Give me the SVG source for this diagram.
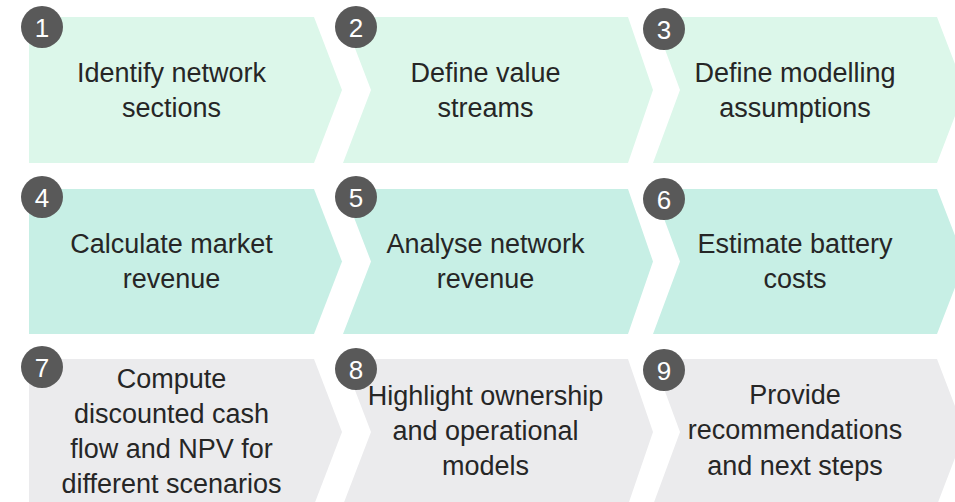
<svg xmlns="http://www.w3.org/2000/svg" width="955" height="502" viewBox="0 0 955 502">
<style>
.r1{fill:#DCF7EA}
.r2{fill:#C7EFE5}
.r3{fill:#EBEBED}
.num circle{fill:#595959}
.num text{fill:#FFFFFF;font-family:"Liberation Sans",Arial,sans-serif;font-size:26px;text-anchor:middle}
.lbl{fill:#262626;font-family:"Liberation Sans",Arial,sans-serif;font-size:27px;text-anchor:middle}
</style>
<rect width="955" height="502" fill="#FFFFFF"/>
<g id="step1">
<polygon class="r1" points="29,17 314,17 342,90 314,163 29,163"/>
<text class="lbl"><tspan x="171.5" y="82">Identify network</tspan><tspan x="171.5" y="117">sections</tspan></text>
<g class="num"><circle cx="42" cy="27" r="21"/><text x="42" y="36.5">1</text></g>
</g>
<g id="step2">
<polygon class="r1" points="343,17 628,17 653,90 628,163 343,163 371,90"/>
<text class="lbl"><tspan x="485.5" y="82">Define value</tspan><tspan x="485.5" y="117">streams</tspan></text>
<g class="num"><circle cx="356" cy="27" r="21"/><text x="356" y="36.5">2</text></g>
</g>
<g id="step3">
<polygon class="r1" points="653,17 937,17 965,90 937,163 653,163 680,90"/>
<text class="lbl"><tspan x="795" y="82">Define modelling</tspan><tspan x="795" y="117">assumptions</tspan></text>
<g class="num"><circle cx="664" cy="29" r="21"/><text x="664" y="38.5">3</text></g>
</g>
<g id="step4">
<polygon class="r2" points="29,189 314,189 342,261.5 314,334 29,334"/>
<text class="lbl"><tspan x="171.5" y="253">Calculate market</tspan><tspan x="171.5" y="288">revenue</tspan></text>
<g class="num"><circle cx="42" cy="197" r="21"/><text x="42" y="206.5">4</text></g>
</g>
<g id="step5">
<polygon class="r2" points="343,189 628,189 653,261.5 628,334 343,334 371,261.5"/>
<text class="lbl"><tspan x="485.5" y="253">Analyse network</tspan><tspan x="485.5" y="288">revenue</tspan></text>
<g class="num"><circle cx="356" cy="197" r="21"/><text x="356" y="206.5">5</text></g>
</g>
<g id="step6">
<polygon class="r2" points="653,189 937,189 965,261.5 937,334 653,334 680,261.5"/>
<text class="lbl"><tspan x="795" y="253">Estimate battery</tspan><tspan x="795" y="288">costs</tspan></text>
<g class="num"><circle cx="664" cy="199" r="21"/><text x="664" y="208.5">6</text></g>
</g>
<g id="step7">
<polygon class="r3" points="29,359 314,359 342,432 314,505 29,505"/>
<text class="lbl"><tspan x="171.5" y="388">Compute</tspan><tspan x="171.5" y="423">discounted cash</tspan><tspan x="171.5" y="458">flow and NPV for</tspan><tspan x="171.5" y="493">different scenarios</tspan></text>
<g class="num"><circle cx="42" cy="367" r="21"/><text x="42" y="376.5">7</text></g>
</g>
<g id="step8">
<polygon class="r3" points="343,359 628,359 653,432 628,505 343,505 371,432"/>
<text class="lbl"><tspan x="485.5" y="405">Highlight ownership</tspan><tspan x="485.5" y="440">and operational</tspan><tspan x="485.5" y="475">models</tspan></text>
<g class="num"><circle cx="356" cy="369" r="21"/><text x="356" y="378.5">8</text></g>
</g>
<g id="step9">
<polygon class="r3" points="653,359 937,359 965,432 937,505 653,505 680,432"/>
<text class="lbl"><tspan x="795" y="404">Provide</tspan><tspan x="795" y="439">recommendations</tspan><tspan x="795" y="475">and next steps</tspan></text>
<g class="num"><circle cx="664" cy="370" r="21"/><text x="664" y="379.5">9</text></g>
</g>
<g id="connectors"/>
</svg>
